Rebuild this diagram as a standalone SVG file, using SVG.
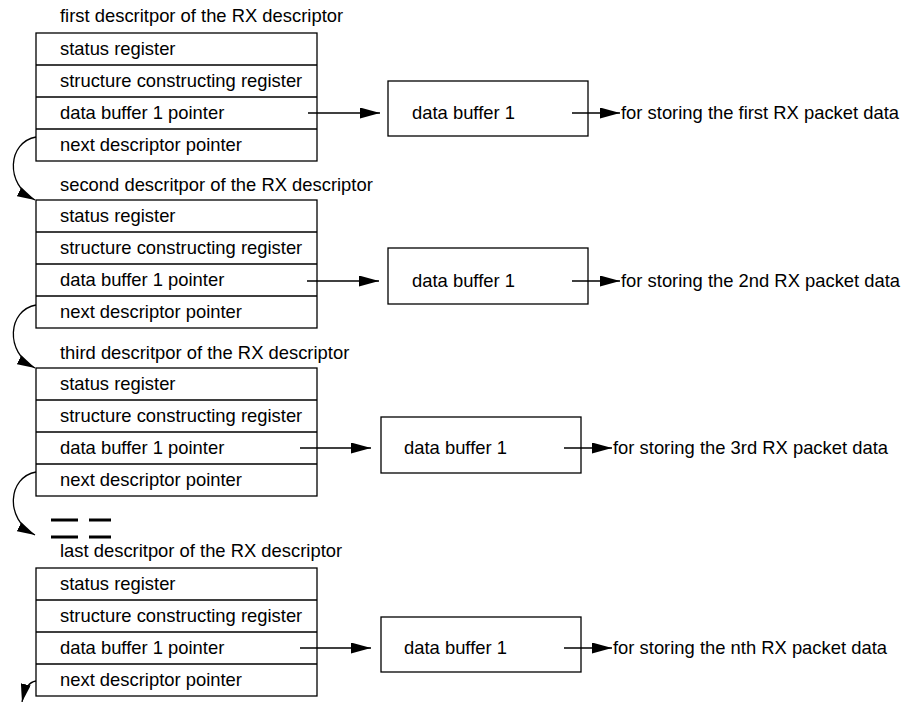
<svg xmlns="http://www.w3.org/2000/svg" width="906" height="702" viewBox="0 0 906 702">
<defs>
<style>
text{font-family:"Liberation Sans",Arial,sans-serif;font-size:18.4px;fill:#000}
.box{fill:#fff;stroke:#000;stroke-width:1.3}
.ln{fill:none;stroke:#000;stroke-width:1.3}
.dash{stroke:#000;stroke-width:3}
</style>
<marker id="ah" viewBox="0 0 20 11" markerUnits="userSpaceOnUse" markerWidth="20" markerHeight="11" refX="20" refY="5.5" orient="auto"><path d="M0,0 L20,5.5 L0,11 z" fill="#000"/></marker>
<marker id="ch" viewBox="0 0 18 10" markerUnits="userSpaceOnUse" markerWidth="18" markerHeight="10" refX="18" refY="5" orient="auto"><path d="M0,0 L18,5 L0,10 z" fill="#000"/></marker>
</defs>
<rect width="906" height="702" fill="#fff"/>

<g id="desc1">
<text x="60" y="22">first descritpor of the RX descriptor</text>
<rect class="box" x="36" y="33" width="281" height="128"/>
<path class="ln" d="M36,65H317M36,97H317M36,129H317"/>
<text x="60" y="55">status register</text>
<text x="60" y="87">structure constructing register</text>
<text x="60" y="119">data buffer 1 pointer</text>
<text x="60" y="151">next descriptor pointer</text>
</g>
<g id="buf1">
<rect class="box" x="388" y="81" width="200" height="55"/>
<text x="412" y="119">data buffer 1</text>
</g>
<text id="out1" x="621" y="119">for storing the first RX packet data</text>

<g id="desc2">
<text x="60" y="191">second descritpor of the RX descriptor</text>
<rect class="box" x="36" y="200" width="281" height="128"/>
<path class="ln" d="M36,232H317M36,264H317M36,296H317"/>
<text x="60" y="222">status register</text>
<text x="60" y="254">structure constructing register</text>
<text x="60" y="286">data buffer 1 pointer</text>
<text x="60" y="318">next descriptor pointer</text>
</g>
<g id="buf2">
<rect class="box" x="388" y="248" width="200" height="56"/>
<text x="412" y="287">data buffer 1</text>
</g>
<text id="out2" x="621" y="287">for storing the 2nd RX packet data</text>

<g id="desc3">
<text x="60" y="359">third descritpor of the RX descriptor</text>
<rect class="box" x="36" y="368" width="281" height="128"/>
<path class="ln" d="M36,400H317M36,432H317M36,464H317"/>
<text x="60" y="390">status register</text>
<text x="60" y="422">structure constructing register</text>
<text x="60" y="454">data buffer 1 pointer</text>
<text x="60" y="486">next descriptor pointer</text>
</g>
<g id="buf3">
<rect class="box" x="381" y="417" width="200" height="56"/>
<text x="404" y="454">data buffer 1</text>
</g>
<text id="out3" x="613" y="454">for storing the 3rd RX packet data</text>

<g id="ellipsis">
<path class="dash" d="M51,520H78M89,520H111M51,537H78M89,537H111"/>
</g>

<g id="desc4">
<text x="60" y="557">last descritpor of the RX descriptor</text>
<rect class="box" x="36" y="568" width="281" height="128"/>
<path class="ln" d="M36,600H317M36,632H317M36,664H317"/>
<text x="60" y="590">status register</text>
<text x="60" y="622">structure constructing register</text>
<text x="60" y="654">data buffer 1 pointer</text>
<text x="60" y="686">next descriptor pointer</text>
</g>
<g id="buf4">
<rect class="box" x="381" y="617" width="200" height="55"/>
<text x="404" y="654">data buffer 1</text>
</g>
<text id="out4" x="613" y="654">for storing the nth RX packet data</text>

<g id="connectors">
<path class="ln" d="M308,113H380" marker-end="url(#ah)"/>
<path class="ln" d="M572,113H620" marker-end="url(#ah)"/>
<path class="ln" d="M307,281H379" marker-end="url(#ah)"/>
<path class="ln" d="M572,281H620" marker-end="url(#ah)"/>
<path class="ln" d="M300,448H371" marker-end="url(#ah)"/>
<path class="ln" d="M564,448H612" marker-end="url(#ah)"/>
<path class="ln" d="M300,648H371" marker-end="url(#ah)"/>
<path class="ln" d="M564,648H612" marker-end="url(#ah)"/>
<path class="ln" d="M36,137C8,142 4,184 35,200" marker-end="url(#ch)"/>
<path class="ln" d="M36,305C8,310 4,352 35,368" marker-end="url(#ch)"/>
<path class="ln" d="M36,472C8,477 4,519 35,535" marker-end="url(#ch)"/>
<path class="ln" d="M36,681C29,682 25,688 22,702" marker-end="url(#ch)"/>
</g>
</svg>
